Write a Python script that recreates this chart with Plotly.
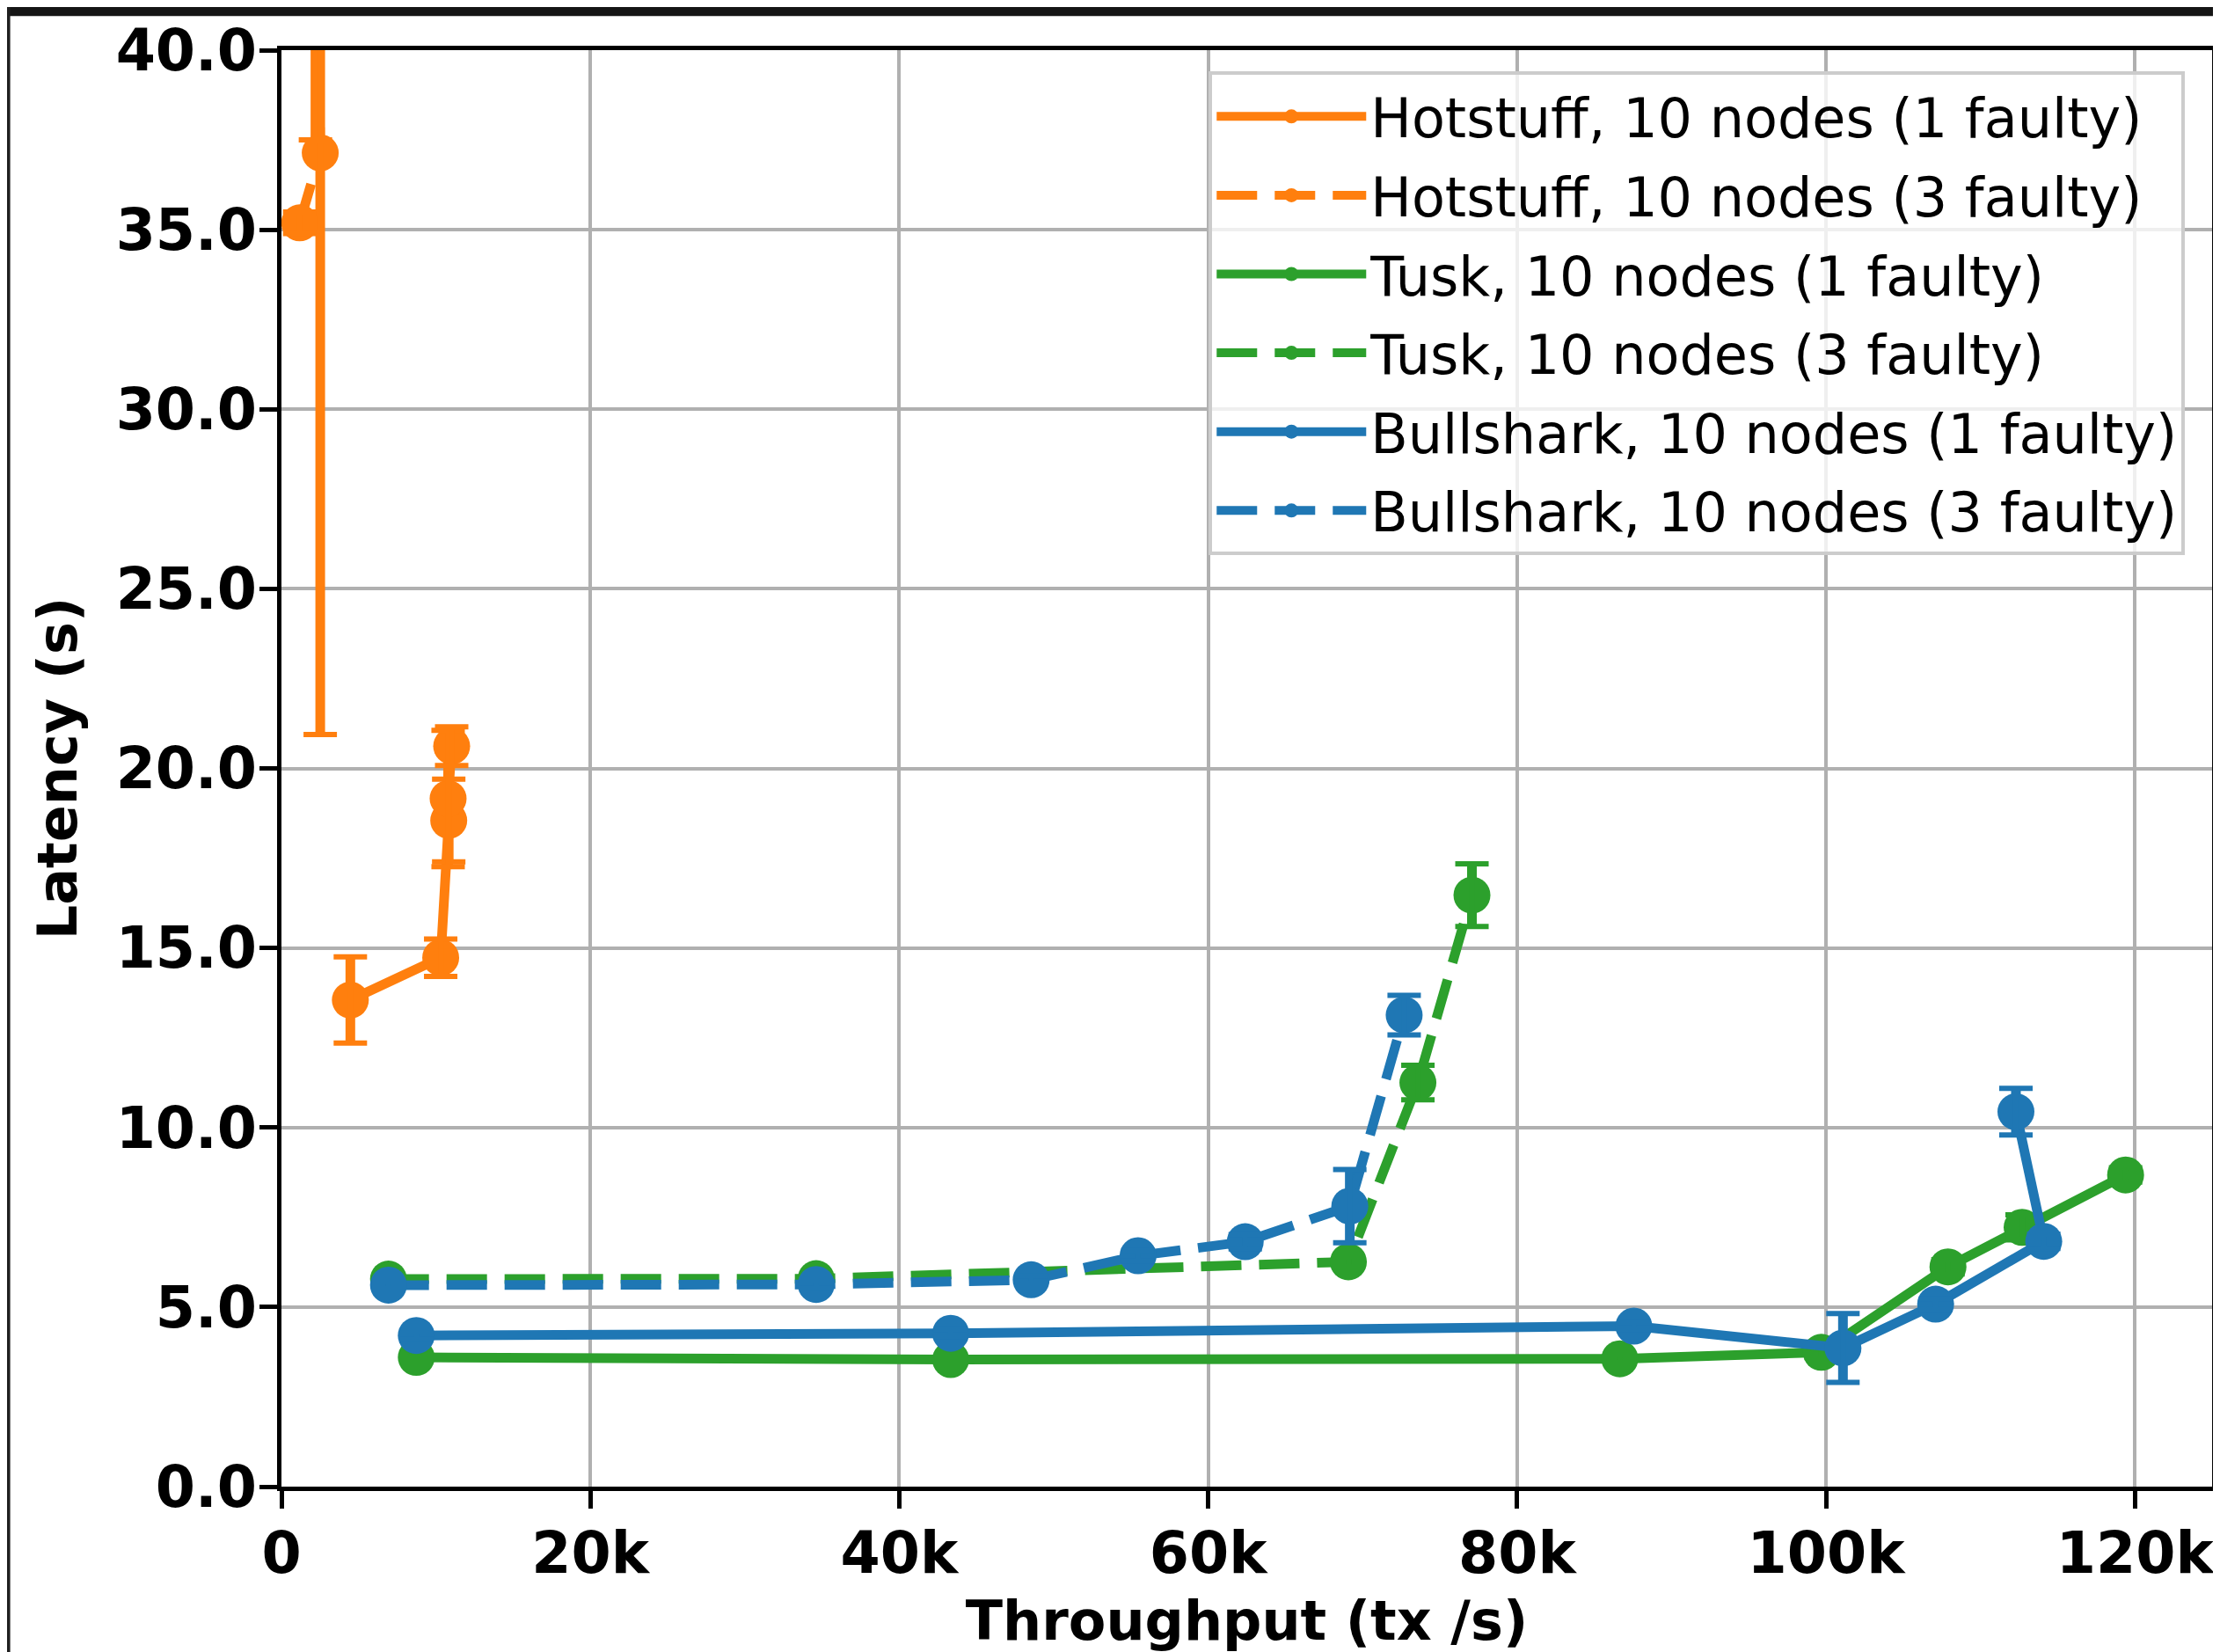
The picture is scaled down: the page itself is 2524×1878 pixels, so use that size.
import plotly.graph_objects as go

# ---- data ----
hs1_x = [4460, 10310, 10830, 10790, 11020]
hs1_y = [13.55, 14.73, 18.55, 19.16, 20.62]
hs1_err = [1.2, 0.52, 1.15, 1.9, 0.54]

hs3_x = [1180, 2510, 2200]
hs3_y = [35.19, 37.14, 48.0]
hs3_err = [0.3, 16.2, 10.5]

tusk1_x = [8730, 43330, 86650, 99700, 107900, 112700, 119400]
tusk1_y = [3.60, 3.54, 3.56, 3.74, 6.12, 7.22, 8.68]
tusk1_err = [0.1, 0.1, 0.1, 0.15, 0.2, 0.35, 0.2]

tusk3_x = [6930, 34620, 69080, 73580, 77080]
tusk3_y = [5.78, 5.79, 6.26, 11.25, 16.47]
tusk3_err = [0.1, 0.1, 0.15, 0.48, 0.87]

bs1_x = [8730, 43330, 87560, 101100, 107100, 114100, 112300]
bs1_y = [4.21, 4.27, 4.47, 3.86, 5.08, 6.83, 10.44]
bs1_err = [0.1, 0.1, 0.1, 0.96, 0.15, 0.2, 0.65]

bs3_x = [6930, 34620, 48540, 55460, 62400, 69170, 72690]
bs3_y = [5.61, 5.63, 5.76, 6.43, 6.82, 7.81, 13.13]
bs3_err = [0.1, 0.1, 0.1, 0.15, 0.2, 1.02, 0.55]

x_tickvals = [0, 20000, 40000, 60000, 80000, 100000, 120000]
x_ticktext = ["0", "20k", "40k", "60k", "80k", "100k", "120k"]
y_tickvals = [0, 5, 10, 15, 20, 25, 30, 35, 40]

ORANGE = "#ff7f0e"
GREEN = "#2ca02c"
BLUE = "#1f77b4"

series = [
    ("Hotstuff, 10 nodes (1 faulty)", hs1_x, hs1_y, hs1_err, ORANGE, "solid"),
    ("Hotstuff, 10 nodes (3 faulty)", hs3_x, hs3_y, hs3_err, ORANGE, "46px,20px"),
    ("Tusk, 10 nodes (1 faulty)", tusk1_x, tusk1_y, tusk1_err, GREEN, "solid"),
    ("Tusk, 10 nodes (3 faulty)", tusk3_x, tusk3_y, tusk3_err, GREEN, "46px,20px"),
    ("Bullshark, 10 nodes (1 faulty)", bs1_x, bs1_y, bs1_err, BLUE, "solid"),
    ("Bullshark, 10 nodes (3 faulty)", bs3_x, bs3_y, bs3_err, BLUE, "46px,20px"),
]

fig = go.Figure()
for i, (name, xs, ys, es, col, dash) in enumerate(series):
    fig.add_trace(go.Scatter(
        x=xs, y=ys, name=name, mode="lines+markers",
        line=dict(color=col, width=11, dash=dash),
        marker=dict(color=col, size=42),
        error_y=dict(type="data", array=es, visible=True, color=col,
                     thickness=11, width=0),
        legendgroup=f"g{i}", showlegend=True,
    ))
    # caps (thinner cross-bars)
    fig.add_trace(go.Scatter(
        x=xs, y=ys, mode="markers", marker=dict(color=col, size=2, opacity=0),
        error_y=dict(type="data", array=es, visible=True, color=col,
                     thickness=6, width=19),
        legendgroup=f"g{i}", showlegend=False, hoverinfo="skip",
    ))

tick_font = dict(family="DejaVu Sans", size=65, color="black", weight="bold")
title_font = dict(family="DejaVu Sans", size=62, color="black", weight="bold")

fig.update_layout(
    width=2524, height=1878,
    margin=dict(l=312, r=14, t=43, b=196),
    paper_bgcolor="white", plot_bgcolor="white",
    showlegend=True,
    legend=dict(
        x=0.986, y=0.985, xanchor="right", yanchor="top",
        bgcolor="rgba(255,255,255,0.8)", bordercolor="#cccccc", borderwidth=4,
        font=dict(family="DejaVu Sans", size=62, color="black"),
        tracegroupgap=6, itemwidth=170,
    ),
    xaxis=dict(
        range=[0, 125000], tickvals=x_tickvals, ticktext=x_ticktext,
        showgrid=True, gridcolor="#b0b0b0", gridwidth=4,
        showline=True, linecolor="black", linewidth=5, mirror=True,
        ticks="outside", ticklen=20, tickwidth=5, tickcolor="black",
        tickfont=tick_font, zeroline=False, ticklabelstandoff=-5,
        title=dict(text="Throughput (tx /s)", font=title_font, standoff=20),
    ),
    yaxis=dict(
        range=[0, 40], tickvals=y_tickvals, tickformat=".1f",
        showgrid=True, gridcolor="#b0b0b0", gridwidth=4,
        showline=True, linecolor="black", linewidth=5, mirror=True,
        ticks="outside", ticklen=20, tickwidth=5, tickcolor="black",
        tickfont=tick_font, zeroline=False, ticklabelstandoff=-10,
        title=dict(text="Latency (s)", font=title_font, standoff=25),
    ),
    shapes=[
        dict(type="rect", xref="paper", yref="paper",
             x0=-0.15, x1=1.01, y0=1.0238, y1=1.04,
             fillcolor="#151515", line=dict(width=0), layer="above"),
        dict(type="rect", xref="paper", yref="paper",
             x0=-0.15, x1=-0.1405, y0=-0.12, y1=1.04,
             fillcolor="#202020", line=dict(width=0), layer="above"),
    ],
)

fig.write_html("out.html")
